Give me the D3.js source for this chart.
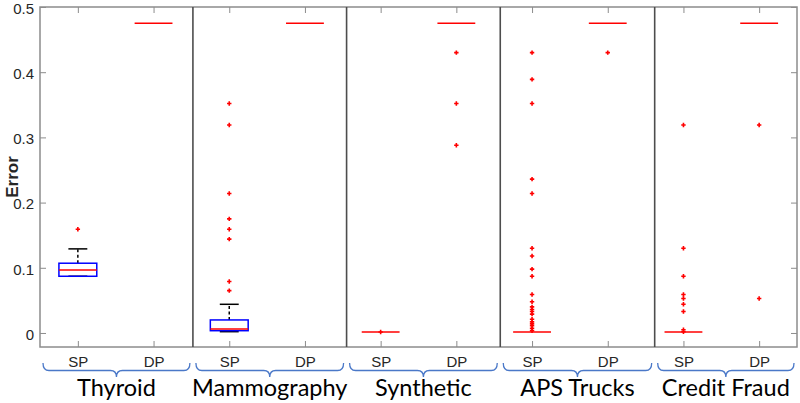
<!DOCTYPE html>
<html>
<head>
<meta charset="utf-8">
<script src="https://cdn.jsdelivr.net/npm/d3@7"></script>
<style>
  body { margin: 0; background: #fff; }
  #chart svg { display: block; }
</style>
</head>
<body>
<div id="chart"></div>
<script>
// datasets and methods (one box per dataset/method pair)
const datasets = ["Thyroid", "Mammography", "Synthetic", "APS Trucks", "Credit Fraud"];
const methods = ["SP", "DP"];
const yTicks = [0, 0.1, 0.2, 0.3, 0.4, 0.5];

// box statistics, in order Thyroid SP, Thyroid DP, Mammography SP, ...
const q1        = [0.087,  0.475, 0.0035, 0.475, 0.0015, 0.475, 0.0015, 0.475, 0.0015, 0.475];
const medians   = [0.0966, 0.475, 0.006,  0.475, 0.0015, 0.475, 0.0015, 0.475, 0.0015, 0.475];
const q3        = [0.107,  0.475, 0.020,  0.475, 0.0015, 0.475, 0.0015, 0.475, 0.0015, 0.475];
const whiskLow  = [0.087,  0.475, 0.002,  0.475, 0.0015, 0.475, 0.0015, 0.475, 0.0015, 0.475];
const whiskHigh = [0.129,  0.475, 0.044,  0.475, 0.0015, 0.475, 0.0015, 0.475, 0.0015, 0.475];
const outliers = [
    [0.159],
    [],
    [0.352, 0.319, 0.214, 0.175, 0.159, 0.144, 0.079, 0.065],
    [],
    [0.0015],
    [0.430, 0.352, 0.288],
    [0.430, 0.389, 0.352, 0.236, 0.214, 0.130, 0.118, 0.098, 0.087, 0.059, 0.048, 0.040,
     0.036, 0.033, 0.029, 0.021, 0.017, 0.014, 0.011, 0.007, 0.0035],
    [0.430],
    [0.319, 0.130, 0.087, 0.059, 0.053, 0.044, 0.033, 0.005, 0.002],
    [0.319, 0.053]
];
// panel divider positions (in box-position units) of the annotation overlay
const panelEdges = [0.5, 2.52, 4.55, 6.58, 8.62, 10.5];

document.addEventListener("DOMContentLoaded", function() {
    const width = 800, height = 403;
    const margin = {top: 7, right: 3, bottom: 56, left: 40};
    const svg = d3.select("#chart").append("svg").attr("width", width).attr("height", height);

    const x = d3.scaleLinear().domain([0.5, 10.5]).range([margin.left, width - margin.right]);
    const y = d3.scaleLinear().domain([-0.0215, 0.5]).range([height - margin.bottom, margin.top]);
    const boxHalf = 0.25, capHalf = 0.125;
    const axisColor = "#8c8c8c";
    const sansFont = "'Liberation Sans', Arial, Helvetica, sans-serif";

    const boxes = q1.map((d, i) => ({
        pos: i + 1,
        q1: d, med: medians[i], q3: q3[i],
        lo: whiskLow[i], hi: whiskHigh[i],
        out: outliers[i]
    }));

    const plot = svg.append("g");

    // whiskers (dashed) + caps, only where they differ from the box
    const withWhiskers = boxes.filter(d => d.hi > d.q3 || d.lo < d.q1);
    plot.selectAll(".whisker").data(withWhiskers).join("g").attr("class", "whisker")
        .each(function(d) {
            const g = d3.select(this);
            g.append("line").attr("x1", x(d.pos)).attr("x2", x(d.pos))
                .attr("y1", y(d.q3)).attr("y2", y(d.hi))
                .attr("stroke", "black").attr("stroke-width", 1.5).attr("stroke-dasharray", "3,2.5");
            g.append("line").attr("x1", x(d.pos)).attr("x2", x(d.pos))
                .attr("y1", y(d.q1)).attr("y2", y(d.lo))
                .attr("stroke", "black").attr("stroke-width", 1.5).attr("stroke-dasharray", "3,2.5");
            g.append("line").attr("x1", x(d.pos - capHalf)).attr("x2", x(d.pos + capHalf))
                .attr("y1", y(d.hi)).attr("y2", y(d.hi))
                .attr("stroke", "black").attr("stroke-width", 1.5);
            g.append("line").attr("x1", x(d.pos - capHalf)).attr("x2", x(d.pos + capHalf))
                .attr("y1", y(d.lo)).attr("y2", y(d.lo))
                .attr("stroke", "black").attr("stroke-width", 1.5);
        });

    // boxes (degenerate ones collapse into the median line)
    plot.selectAll(".box").data(boxes.filter(d => d.q3 > d.q1)).join("rect").attr("class", "box")
        .attr("x", d => x(d.pos - boxHalf))
        .attr("width", d => x(d.pos + boxHalf) - x(d.pos - boxHalf))
        .attr("y", d => y(d.q3))
        .attr("height", d => y(d.q1) - y(d.q3))
        .attr("fill", "none").attr("stroke", "#0000ff").attr("stroke-width", 1.5);

    // medians
    plot.selectAll(".median").data(boxes).join("line").attr("class", "median")
        .attr("x1", d => x(d.pos - boxHalf)).attr("x2", d => x(d.pos + boxHalf))
        .attr("y1", d => y(d.med)).attr("y2", d => y(d.med))
        .attr("stroke", "#ff0000").attr("stroke-width", 1.5);

    // outliers (+)
    const outPts = boxes.flatMap(d => d.out.map(v => ({pos: d.pos, v: v})));
    plot.selectAll(".outlier").data(outPts).join("path").attr("class", "outlier")
        .attr("transform", d => `translate(${x(d.pos)},${y(d.v)})`)
        .attr("d", "M-2.2,0H2.2M0,-2.2V2.2")
        .attr("stroke", "#ff0000").attr("stroke-width", 1.6);

    // frame
    const x0 = x.range()[0], x1 = x.range()[1], yb = y.range()[0], yt = y.range()[1];
    svg.append("rect").attr("x", x0).attr("y", yt).attr("width", x1 - x0).attr("height", yb - yt)
        .attr("fill", "none").attr("stroke", axisColor).attr("stroke-width", 1.5);

    // panel separators
    svg.selectAll(".sep").data(panelEdges.slice(1, -1)).join("line").attr("class", "sep")
        .attr("x1", d => x(d)).attr("x2", d => x(d))
        .attr("y1", yt).attr("y2", yb)
        .attr("stroke", "#4d4d4d").attr("stroke-width", 1.6);

    // y axis left and right
    const yAxis = svg.append("g").attr("transform", `translate(${x0},0)`)
        .call(d3.axisLeft(y).tickValues(yTicks).tickSize(-6).tickFormat(d3.format("")));
    yAxis.select(".domain").remove();
    yAxis.selectAll(".tick line").attr("stroke", axisColor);
    yAxis.selectAll(".tick text").attr("x", -6).attr("dy", "0.42em").attr("fill", "#262626")
        .style("font-family", sansFont).style("font-size", "15px");

    const yAxisR = svg.append("g").attr("transform", `translate(${x1},0)`)
        .call(d3.axisRight(y).tickValues(yTicks).tickSize(-6).tickFormat(""));
    yAxisR.select(".domain").remove();
    yAxisR.selectAll(".tick line").attr("stroke", axisColor);

    // x axis bottom and top
    const positions = d3.range(1, 11);
    const xAxis = svg.append("g").attr("transform", `translate(0,${yb})`)
        .call(d3.axisBottom(x).tickValues(positions).tickSize(-6)
            .tickFormat((d, i) => methods[i % 2]));
    xAxis.select(".domain").remove();
    xAxis.selectAll(".tick line").attr("stroke", axisColor);
    xAxis.selectAll(".tick text").attr("y", 9).attr("fill", "#262626")
        .style("font-family", sansFont).style("font-size", "15px");

    const xAxisT = svg.append("g").attr("transform", `translate(0,${yt})`)
        .call(d3.axisTop(x).tickValues(positions).tickSize(-6).tickFormat(""));
    xAxisT.select(".domain").remove();
    xAxisT.selectAll(".tick line").attr("stroke", axisColor);

    // y label
    svg.append("text")
        .attr("transform", `translate(18,${(yt + yb) / 2}) rotate(-90)`)
        .attr("text-anchor", "middle")
        .style("font-family", sansFont)
        .style("font-size", "17px").style("font-weight", "bold").attr("fill", "#262626")
        .text("Error");

    // braces + dataset names
    const braceTop = 363, braceMid = 370.5, braceBot = 377, inset = 3, r = 6;
    const panels = datasets.map((name, i) => ({
        name: name,
        a: x(panelEdges[i]) + inset,
        b: x(panelEdges[i + 1]) - inset
    }));
    svg.selectAll(".brace").data(panels).join("path").attr("class", "brace")
        .attr("d", d => {
            const c = (d.a + d.b) / 2;
            return `M${d.a},${braceTop} Q${d.a},${braceMid} ${d.a + r},${braceMid}` +
                   ` L${c - r},${braceMid} Q${c},${braceMid} ${c},${braceBot}` +
                   ` Q${c},${braceMid} ${c + r},${braceMid} L${d.b - r},${braceMid}` +
                   ` Q${d.b},${braceMid} ${d.b},${braceTop}`;
        })
        .attr("fill", "none").attr("stroke", "#4a78c8").attr("stroke-width", 1.3);

    svg.selectAll(".dsname").data(panels).join("text").attr("class", "dsname")
        .attr("x", d => (d.a + d.b) / 2).attr("y", 396)
        .attr("text-anchor", "middle")
        .style("font-family", "Lato, 'Open Sans', sans-serif").style("font-size", "23.5px")
        .attr("fill", "black")
        .text(d => d.name);
});
</script>
</body>
</html>
